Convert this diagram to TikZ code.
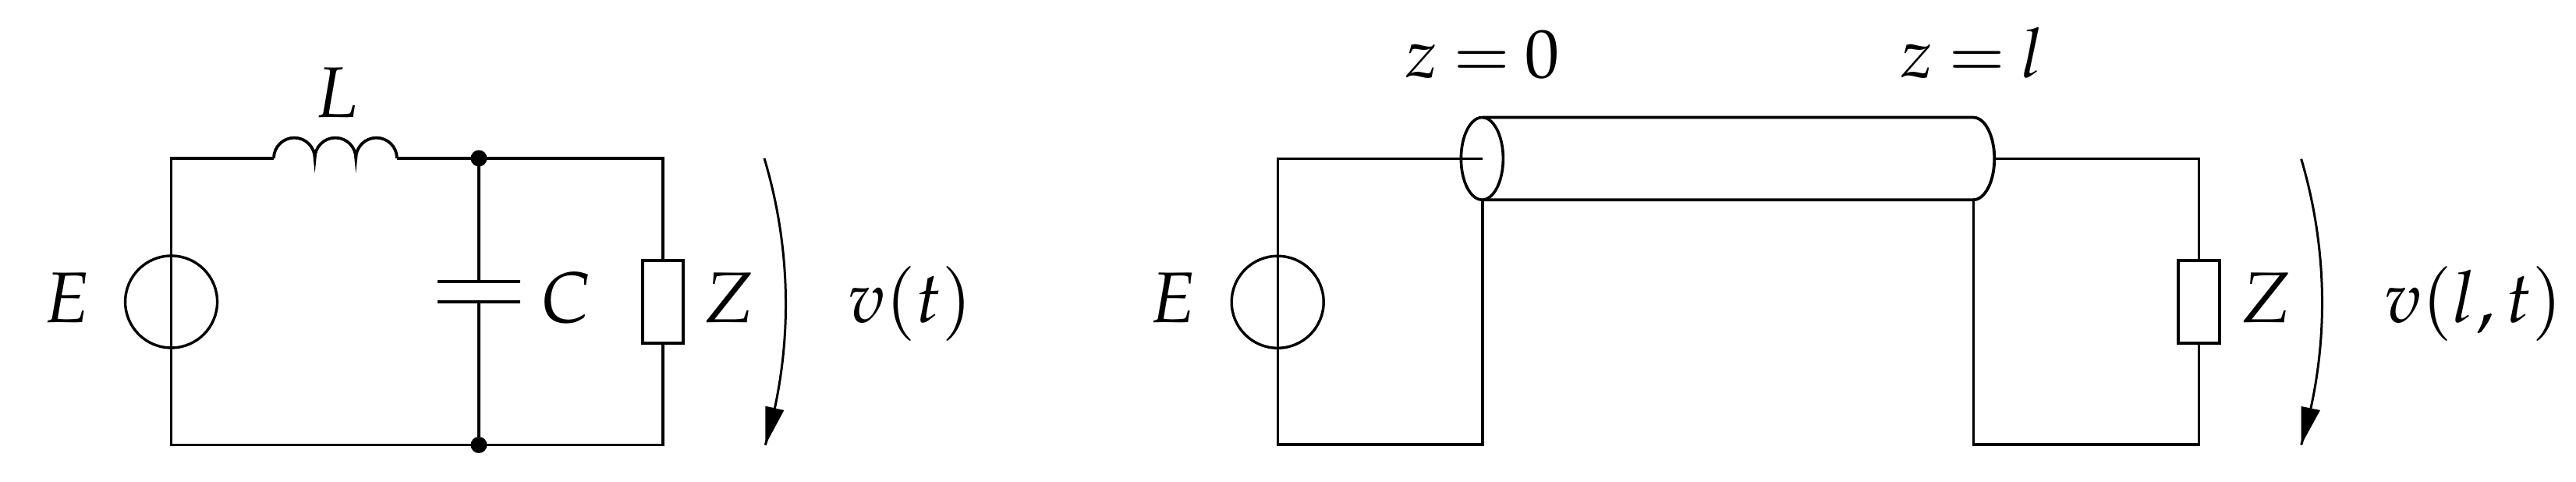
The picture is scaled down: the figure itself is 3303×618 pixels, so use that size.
\documentclass[tikz,border=0pt]{standalone}
\usepackage{mathpazo}
\usetikzlibrary{shapes.geometric}
\tikzset{
  wire/.style={line width=0.38pt,line join=miter},
  thinwire/.style={line width=0.3pt},
  label/.style={inner sep=0pt,outer sep=0pt,anchor=base,font=\fontsize{9.2}{11}\selectfont},
  toplabel/.style={inner sep=0pt,outer sep=0pt,anchor=base,font=\fontsize{8.8}{10}\selectfont},
  source/.style={circle,draw,line width=0.34pt,minimum size=11.8pt,inner sep=0pt,outer sep=0pt},
  load/.style={rectangle,draw,line width=0.4pt,fill=white,minimum width=5.3pt,minimum height=10.65pt,inner sep=0pt,outer sep=0pt},
  junction/.style={circle,fill=black,minimum size=2.1pt,inner sep=0pt,outer sep=0pt},
  cable/.style={ellipse,draw,line width=0.36pt,minimum width=5.4pt,minimum height=10.56pt,inner sep=0pt,outer sep=0pt}
}
\begin{document}
\begin{tikzpicture}[x=0.1pt,y=-0.1pt]
\useasboundingbox (0,0) rectangle (3303,618);
% ---------- left circuit ----------
\coordinate (tl) at (219.6,203);
\coordinate (bl) at (219.6,570.5);
\coordinate (coilA) at (351,203);
\coordinate (coilB) at (509,203);
\coordinate (tr) at (850,203);
\coordinate (br) at (850,570.5);
\coordinate (plateAl) at (561,361);
\coordinate (plateAr) at (667,361);
\coordinate (plateBl) at (561,387.4);
\coordinate (plateBr) at (667,387.4);
\coordinate (plateAm) at (614,361);
\coordinate (plateBm) at (614,387.4);
\node[junction] (jt) at (614,203) {};
\node[junction] (jb) at (614,570.5) {};
\draw[wire] (coilA) -- (tl) -- (bl) -- (jb) -- (br) -- (tr) -- (jt) -- (coilB);
\draw[wire] (coilA) arc[start angle=180,end angle=360,radius=26.33]
  arc[start angle=180,end angle=360,radius=26.33]
  arc[start angle=180,end angle=360,radius=26.33];
\draw[wire] (jt) -- (plateAm);
\draw[wire] (plateBm) -- (jb);
\draw[wire] (plateAl) -- (plateAr);
\draw[wire] (plateBl) -- (plateBr);
\node[source] (srcL) at (219.6,387) {};
\draw[wire] (tl) -- (bl);
\node[load] (zL) at (850,387) {};
\coordinate (aLs) at (980,203);
\coordinate (aLe) at (981.3,570.7);
\coordinate (aLa) at (981.3,520.7);
\coordinate (aLb) at (1005.4,526);
\draw[thinwire] (aLs) .. controls (1016,323) and (1017,451) .. (aLe);
\fill (aLe) -- (aLa) -- (aLb) -- cycle;
\node[label] (lE) at (85.7,414) {$E$};
\node[label] (lL) at (431.5,150.7) {$L$};
\node[label] (lC) at (726,414) {$C$};
\node[label] (lZ) at (935,414) {$Z$};
\node[label] (lv) at (1167,414) {$v(t)$};
% ---------- right circuit ----------
\coordinate (Tl) at (1638.4,203.6);
\coordinate (Bl) at (1638.4,570.4);
\coordinate (Inn) at (1900.9,203.6);
\coordinate (Cb) at (1900.9,256.2);
\coordinate (Bm) at (1900.9,570.4);
\coordinate (Ct) at (1900.9,150.6);
\coordinate (Dt) at (2530.3,150.6);
\coordinate (Db) at (2530.3,256.2);
\coordinate (Dm) at (2557,203.6);
\coordinate (Tr) at (2819.5,203.6);
\coordinate (E2) at (2530.3,570.4);
\coordinate (F2) at (2819.5,570.4);
\draw[wire] (Inn) -- (Tl) -- (Bl) -- (Bm) -- (Cb);
\node[source] (srcR) at (1638.2,387.3) {};
\draw[wire] (Tl) -- (Bl);
\node[cable] (capA) at (1900.4,203.4) {};
\draw[wire] (Ct) -- (Dt) arc[start angle=-90,end angle=90,x radius=27,y radius=52.8] -- (Cb);
\draw[thinwire] (Db) -- (E2) -- (F2) -- (Tr) -- (Dm);
\draw[wire] (E2) -- (F2);
\node[load] (zR) at (2819.2,387) {};
\coordinate (aRs) at (2950.7,203.8);
\coordinate (aRe) at (2950.7,570.4);
\coordinate (aRa) at (2950.7,521);
\coordinate (aRb) at (2975,526);
\draw[thinwire] (aRs) .. controls (2986,323) and (2987,451) .. (aRe);
\fill (aRe) -- (aRa) -- (aRb) -- cycle;
\node[toplabel] (tz0) at (1901,99.7) {\thickmuskip=4mu $z=0$};
\node[toplabel] (tzl) at (2529,99.7) {\thickmuskip=4mu $z=l$};
\node[label] (rE) at (1503.5,414) {$E$};
\node[label] (rZ) at (2905.5,414) {$Z$};
\node[label] (rv) at (3171.5,414) {$v(l,t)$};
\end{tikzpicture}
\end{document}
